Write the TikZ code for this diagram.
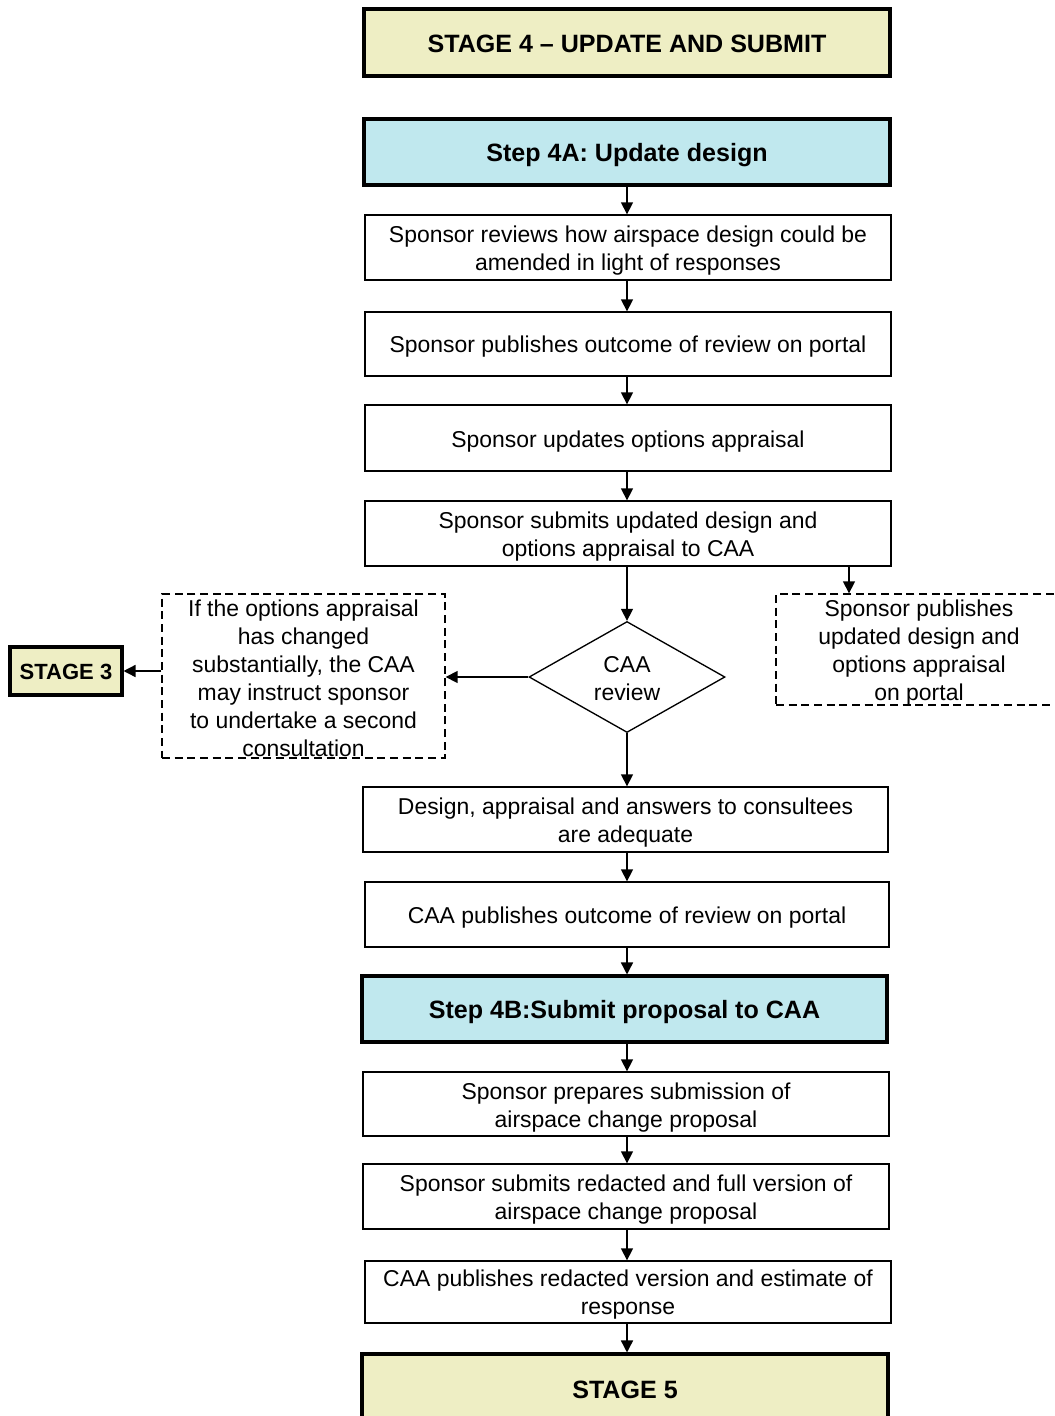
\documentclass[tikz,border=0pt]{standalone}
\usepackage{fontspec}
\setmainfont{Liberation Sans}
\usetikzlibrary{arrows.meta,shapes.geometric}
\definecolor{stageyel}{RGB}{238,238,196}
\definecolor{stepcyan}{RGB}{192,232,238}
% #1 name, #2 x1, #3 y1, #4 x2, #5 y2, #6 style, #7 text, #8 text shift down (px)
\newcommand\bx[8]{%
  \node[#6, minimum width={(#4-#2)*0.75pt}, minimum height={(#5-#3)*0.75pt}] (#1) at ({(#2+#4)/2},{(#3+#5)/2}) {};
  \node[#6, draw=none, fill=none] (#1t) at ([yshift={-(#8)*0.75pt}]#1.center) {#7};}
\tikzset{
  base/.style={draw, inner sep=0pt, align=center, font=\fontsize{17.2pt}{21pt}\selectfont},
  plainbox/.style={base, line width=1pt, fill=white},
  stagebox/.style={base, line width=2.3pt, fill=stageyel, font=\fontsize{18.8pt}{22pt}\selectfont\bfseries},
  stepbox/.style={base, line width=2.3pt, fill=stepcyan, font=\fontsize{18.8pt}{22pt}\selectfont\bfseries},
  dashbox/.style={base, line width=1pt, dash pattern=on 6pt off 3.5pt},
  arr/.style={line width=1.1pt, -{Triangle[length=9pt,width=9pt]}},
}
\begin{document}
\begin{tikzpicture}[x=0.75pt,y=-0.75pt]
\useasboundingbox (0,0) rectangle (1054,1416);
\begin{scope}
\clip (0,0) rectangle (1054,1416);
\bx{st4}{364}{9}{890}{76}{stagebox}{STAGE 4 -- UPDATE AND SUBMIT}{1}
\bx{s4a}{364}{119}{890}{185}{stepbox}{Step 4A: Update design}{3}
\bx{b1}{365}{215}{891}{280}{plainbox}{Sponsor reviews how airspace design could be\\amended in light of responses}{3.5}
\bx{b2}{365}{312}{891}{376}{plainbox}{Sponsor publishes outcome of review on portal}{3}
\bx{b3}{365}{405}{891}{471}{plainbox}{Sponsor updates options appraisal}{3.5}
\bx{b4}{365}{501}{891}{566}{plainbox}{Sponsor submits updated design and\\options appraisal to CAA}{3.5}
\node[base, diamond, line width=1pt, minimum width={196*0.75pt}, minimum height={111*0.75pt}] (dia) at (627,677) {};
\node[base, draw=none] (diat) at ([yshift=-1.5pt]dia.center) {CAA\\review};
\bx{lbox}{162}{594}{445}{758}{dashbox}{If the options appraisal\\has changed\\substantially, the CAA\\may instruct sponsor\\to undertake a second\\consultation}{2}
\bx{st3}{10}{647}{122}{695}{stagebox, font=\fontsize{16.5pt}{20pt}\selectfont\bfseries}{STAGE 3}{1}
\bx{rbox}{776}{594}{1062}{705}{dashbox}{Sponsor publishes\\updated design and\\options appraisal\\on portal}{3}
\bx{b5}{363}{787}{888}{852}{plainbox}{Design, appraisal and answers to consultees\\are adequate}{3}
\bx{b6}{365}{882}{889}{947}{plainbox}{CAA publishes outcome of review on portal}{3.5}
\bx{s4b}{362}{976}{887}{1042}{stepbox}{Step 4B:Submit proposal to CAA}{3.5}
\bx{b7}{363}{1072}{889}{1136}{plainbox}{Sponsor prepares submission of\\airspace change proposal}{3.5}
\bx{b8}{363}{1164}{889}{1229}{plainbox}{Sponsor submits redacted and full version of\\airspace change proposal}{3.5}
\bx{b9}{365}{1261}{891}{1323}{plainbox}{CAA publishes redacted version and estimate of\\response}{2.5}
\bx{st5}{362}{1354}{888}{1421}{stagebox}{STAGE 5}{2}
\coordinate (ax) at (627,0);
\coordinate (rx) at (849,566);
\draw[arr] (ax |- s4a.south) -- (ax |- b1.north);
\draw[arr] (ax |- b1.south) -- (ax |- b2.north);
\draw[arr] (ax |- b2.south) -- (ax |- b3.north);
\draw[arr] (ax |- b3.south) -- (ax |- b4.north);
\draw[arr] (ax |- b4.south) -- (dia.north);
\draw[arr] (rx) -- (rx |- rbox.north);
\draw[arr] (dia.west) -- (dia.west -| lbox.east);
\draw[arr] (st3.east -| lbox.west) -- (st3.east);
\draw[arr] (dia.south) -- (ax |- b5.north);
\draw[arr] (ax |- b5.south) -- (ax |- b6.north);
\draw[arr] (ax |- b6.south) -- (ax |- s4b.north);
\draw[arr] (ax |- s4b.south) -- (ax |- b7.north);
\draw[arr] (ax |- b7.south) -- (ax |- b8.north);
\draw[arr] (ax |- b8.south) -- (ax |- b9.north);
\draw[arr] (ax |- b9.south) -- (ax |- st5.north);
\end{scope}
\end{tikzpicture}
\end{document}
